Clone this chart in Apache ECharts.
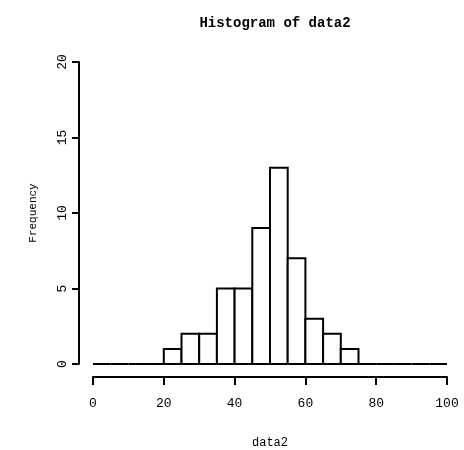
<!DOCTYPE html>
<html><head><meta charset="utf-8">
<script src="https://cdn.jsdelivr.net/npm/echarts@6/dist/echarts.min.js"></script>
<style>html,body{margin:0;padding:0;background:#fff}#c{width:464px;height:450px}</style>
</head><body><div id="c"></div>
<script>
const binStarts = [0,5,10,15,20,25,30,35,40,45,50,55,60,65,70,75,80,85,90,95];
const binWidth = 5;
const counts = [0,0,0,0,1,2,2,5,5,9,13,7,3,2,1,0,0,0,0,0];
const xTicks = [0,20,40,60,80,100];
const yTicks = [0,5,10,15,20];
const titleText = 'Histogram of data2';
const xName = 'data2';
const yName = 'Frequency';

const data = binStarts.map((s,i)=>[s, s+binWidth, counts[i]]);
const chart = echarts.init(document.getElementById('c'), null, {renderer:'canvas'});
const font = 'Liberation Mono';
chart.setOption({
  animation:false,
  backgroundColor:'#fff',
  title:{text:titleText, left:270, top:11, textAlign:'center',
    textStyle:{fontFamily:font, fontWeight:'bold', fontSize:14, color:'#000'}},
  grid:{left:93, right:17, top:62, bottom:86, containLabel:false, outerBoundsMode:'none'},
  xAxis:{type:'value', min:0, max:100, interval:20, offset:13,
    name:xName, nameLocation:'middle', nameGap:60,
    nameTextStyle:{fontFamily:font, fontSize:12, color:'#000'},
    axisLine:{show:true, onZero:false, lineStyle:{color:'#000', width:2}},
    axisTick:{show:true, length:8, lineStyle:{color:'#000', width:2}},
    axisLabel:{fontFamily:font, fontSize:13, color:'#000', margin:20,
      formatter:v=>xTicks.includes(v)?String(v):''},
    splitLine:{show:false}},
  yAxis:{type:'value', min:0, max:20, interval:5, offset:14,
    name:yName, nameLocation:'middle', nameGap:40,
    nameTextStyle:{fontFamily:font, fontSize:11, color:'#000'},
    axisLine:{show:true, onZero:false, lineStyle:{color:'#000', width:2}},
    axisTick:{show:true, length:7, lineStyle:{color:'#000', width:2}},
    axisLabel:{fontFamily:font, fontSize:13, color:'#000', rotate:90, margin:10,
      formatter:v=>yTicks.includes(v)?String(v):''},
    splitLine:{show:false}},
  series:[{
    type:'custom',
    data:data,
    encode:{x:[0,1], y:2},
    renderItem:function(params, api){
      const p0 = api.coord([api.value(0), 0]);
      const p1 = api.coord([api.value(1), api.value(2)]);
      return {type:'rect',
        shape:{x:p0[0], y:p1[1], width:p1[0]-p0[0], height:p0[1]-p1[1]},
        style:{fill:'#fff', stroke:'#000', lineWidth:2}};
    }
  }]
});
</script></body></html>
